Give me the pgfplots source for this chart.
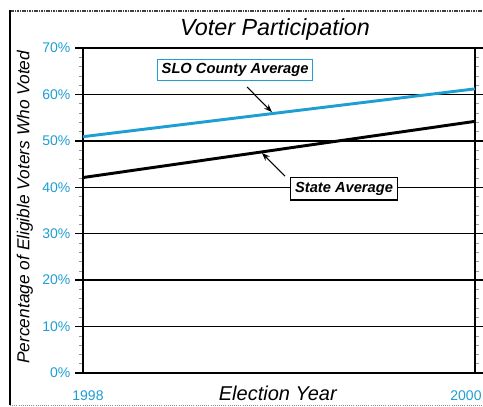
\documentclass[border=0pt]{standalone}
\usepackage{fontspec}
\setmainfont{Liberation Sans}
\usepackage{pgfplots}
\pgfplotsset{compat=1.18}
\usetikzlibrary{arrows.meta}

\definecolor{slocyan}{RGB}{30,158,210}

\begin{document}
\begin{tikzpicture}
% picture frame, 483 x 407 px at 0.75pt per px
\useasboundingbox (0,0) rectangle (362.25pt,305.25pt);
\draw[black!75, dash pattern=on 1.2pt off 0.6pt, line width=1.4pt] (7.5pt,297pt) -- (370pt,297pt);
\draw[black!45, densely dotted, line width=0.6pt] (7.5pt,1.5pt) -- (370pt,1.5pt);
\draw[black, line width=1.5pt] (7.5pt,1.5pt) -- (7.5pt,297.75pt);

\begin{axis}[
    scale only axis,
    width=294pt, height=243.75pt,
    at={(62.25pt,25.5pt)}, anchor=south west,
    xmin=1998, xmax=2000,
    ymin=0, ymax=70,
    xtick={1998,2000},
    xticklabels={\hspace*{7.5pt}1998, 2000\hspace*{13.5pt}},
    ytick={0,10,...,70},
    minor y tick num=4,
    yticklabel={\pgfmathprintnumber{\tick}\%},
    /pgf/number format/assume math mode=true,
    /pgf/number format/1000 sep={},
    ticklabel style={font=\fontsize{10.5}{11}\selectfont, text=slocyan},
    xticklabel style={yshift=-4pt},
    axis line style={line width=1.5pt},
    tick align=outside,
    major tick length=6pt,
    minor tick length=3pt,
    major tick style={black, line width=1pt},
    minor tick style={black!40, line width=0.4pt},
    xtick style={draw=none},
    ymajorgrids,
    grid style={black, line width=1pt},
    every axis title shift=0pt,
    title={Voter Participation},
    title style={font=\itshape\fontsize{17.5}{18}\selectfont, at={(axis description cs:0.49,1.058)}, anchor=center},
    xlabel={Election Year},
    xlabel style={font=\itshape\fontsize{15}{16}\selectfont, at={(axis description cs:0.497,-0.062)}, anchor=center},
    ylabel={Percentage of Eligible Voters Who Voted},
    ylabel style={font=\itshape\fontsize{13}{14}\selectfont, at={(axis description cs:-0.148,0.51)}, anchor=center, rotate=0},
    clip=false,
]
\addplot[slocyan, line width=2.2pt] coordinates {(1998,50.9) (2000,61.2)};
\addplot[black, line width=2.2pt] coordinates {(1998,42.1) (2000,54.2)};

\node[draw=slocyan, line width=1pt, fill=white, inner sep=3pt,
      font=\bfseries\itshape\fontsize{11}{12}\selectfont]
  at (axis cs:1998.776,65.3) {\textcolor{black}{SLO County Average}};
\draw[-{Stealth[length=6pt]}, line width=0.8pt] (axis cs:1998.837,61.6) -- (axis cs:1998.964,56.2);

\node[draw=black, line width=0.8pt, fill=white, inner sep=3.5pt,
      font=\bfseries\itshape\fontsize{11}{12}\selectfont]
  at (axis cs:1999.332,39.7) {State Average};
\draw[-{Stealth[length=6pt]}, line width=0.8pt] (axis cs:1999.031,42.4) -- (axis cs:1998.913,47.4);
\end{axis}
\end{tikzpicture}
\end{document}
